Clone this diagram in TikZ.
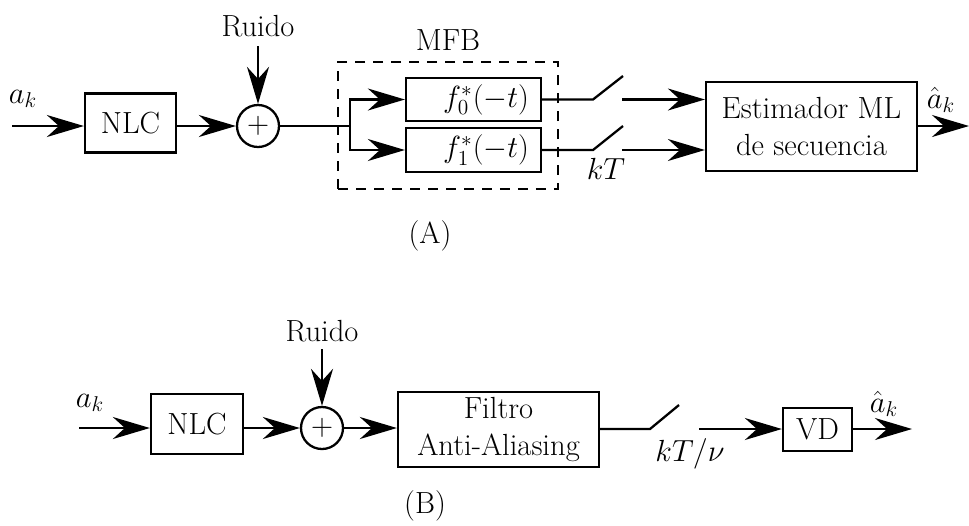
\RequirePackage{fix-cm}
\documentclass[tikz,border=0pt]{standalone}
\usetikzlibrary{arrows.meta}
\begin{document}
\begin{tikzpicture}[x=0.02cm,y=-0.02cm,
  every node/.style={font=\fontsize{17.4}{21}\selectfont},
  line width=1.3pt,
  blk/.style={draw,rectangle,inner sep=0pt,align=center},
  sumnode/.style={draw,circle,minimum size=0.84cm,inner sep=0pt},
  arr/.style={-{Stealth[length=0.74cm,width=0.44cm]}},
  lbl/.style={inner sep=0pt},
  dashbox/.style={draw,dash pattern=on 0.2cm off 0.16cm,inner sep=0pt}]
\useasboundingbox (0,0) rectangle (969,525);

% ---------------- (A) ----------------
\coordinate (inA) at (12,126);
\node[lbl] (akA) at (23,99) {$a_k$};
\node[blk,minimum width=1.82cm,minimum height=1.18cm] (nlcA) at (130.5,123) {NLC};
\node[sumnode] (sumA) at (258,126) {$+$};
\node[lbl] (ruidoA) at (258,26) {Ruido};
\coordinate (noiseA) at (258,46);
\draw[arr] (inA) -- (inA -| nlcA.west);
\draw[arr] (nlcA.east |- sumA) -- (sumA.west);
\draw[arr] (noiseA) -- (sumA.north);

\node[dashbox,minimum width=4.4cm,minimum height=2.54cm] (mfb) at (448,125.5) {};
\node[lbl] (mfbl) at (448,40) {MFB};
\node[blk,minimum width=2.7cm,minimum height=0.86cm] (f0) at (473.5,99.5) {};
\node[blk,minimum width=2.7cm,minimum height=0.88cm] (f1) at (473.5,150) {};
\node[lbl,anchor=east] (f0t) at ([xshift=-0.24cm]f0.east) {$f_0^*(-t)$};
\node[lbl,anchor=east] (f1t) at ([xshift=-0.24cm]f1.east) {$f_1^*(-t)$};
\coordinate (jA) at (350,126);
\draw (sumA.east) -- (jA);
\draw[arr] (jA) |- (f0.west);
\draw[arr] (jA) |- (f1.west);

\node[blk,minimum width=4.22cm,minimum height=1.78cm] (est) at (811.5,126.5) {Estimador ML\\de secuencia};
\coordinate (sw0a) at (593,99.5);
\coordinate (sw0b) at (623,76);
\coordinate (sw0c) at (622,99.5);
\coordinate (sw1a) at (593,150);
\coordinate (sw1b) at (623,126);
\coordinate (sw1c) at (622,150);
\draw (f0.east) -- (sw0a) -- (sw0b);
\draw (f1.east) -- (sw1a) -- (sw1b);
\draw[arr] (sw0c) -- (sw0c -| est.west);
\draw[arr] (sw1c) -- (sw1c -| est.west);
\node[lbl] (kTA) at (606,169) {$kT$};
\coordinate (outA) at (969,126);
\draw[arr] (est.east |- outA) -- (outA);
\node[lbl] (ahA) at (941,100) {$\hat{a}_k$};
\node[lbl] (labA) at (430,236) {(A)};

% ---------------- (B) ----------------
\coordinate (inB) at (79,428);
\node[lbl] (akB) at (90,403) {$a_k$};
\node[blk,minimum width=1.84cm,minimum height=1.2cm] (nlcB) at (197,424) {NLC};
\node[sumnode] (sumB) at (322,428) {$+$};
\node[lbl] (ruidoB) at (322,331) {Ruido};
\coordinate (noiseB) at (322,349);
\draw[arr] (inB) -- (inB -| nlcB.west);
\draw[arr] (nlcB.east |- sumB) -- (sumB.west);
\draw[arr] (noiseB) -- (sumB.north);

\node[blk,minimum width=4.02cm,minimum height=1.5cm] (filt) at (498.5,429.5) {Filtro\\Anti-Aliasing};
\draw[arr] (sumB.east) -- (sumB.east -| filt.west);

\node[blk,minimum width=1.38cm,minimum height=0.86cm] (vd) at (817.5,429.5) {VD};
\coordinate (swBa) at (650,429);
\coordinate (swBb) at (679,405);
\coordinate (swBc) at (699,429);
\draw (filt.east |- swBa) -- (swBa) -- (swBb);
\draw[arr] (swBc) -- (swBc -| vd.west);
\node[lbl] (kTB) at (690,454) {$kT/\nu$};
\coordinate (outB) at (912,429);
\draw[arr] (vd.east |- outB) -- (outB);
\node[lbl] (ahB) at (884,404) {$\hat{a}_k$};
\node[lbl] (labB) at (425,506) {(B)};
\end{tikzpicture}
\end{document}
